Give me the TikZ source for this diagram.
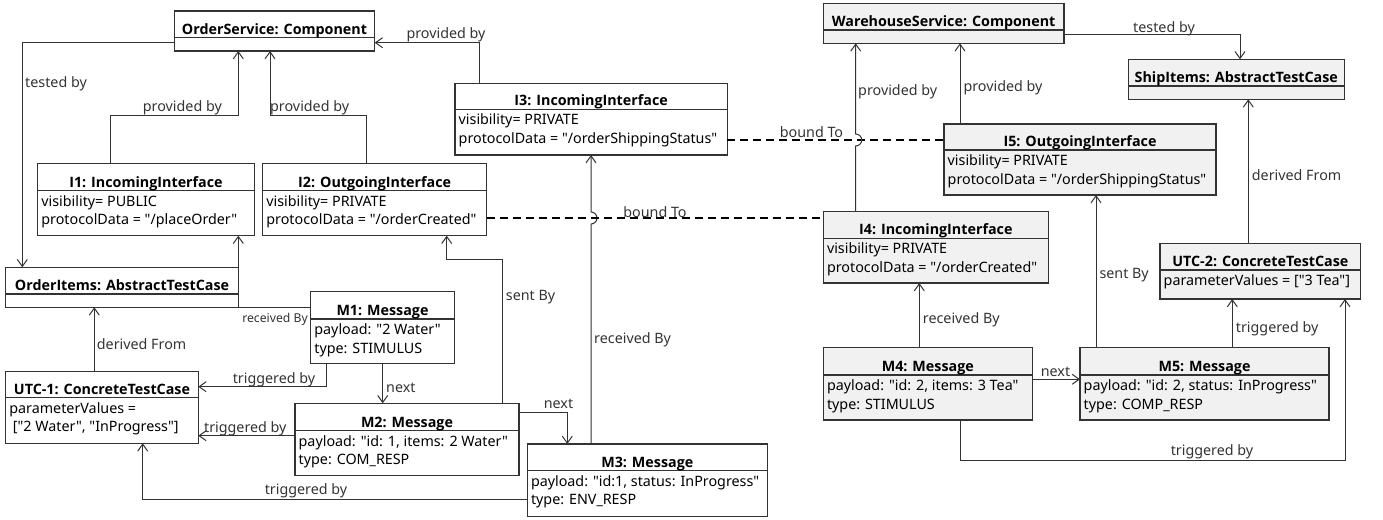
\documentclass[tikz,border=0pt]{standalone}
\usepackage{fontspec}
\setmainfont{Noto Sans}[Ligatures=TeXOff]
\newfontfamily\tfont{Open Sans}[Ligatures=TeXOff]
\usetikzlibrary{arrows.meta}
\definecolor{lc}{HTML}{333333}
\definecolor{gfill}{HTML}{F1F1F1}
\tikzset{
 objbox/.style={draw=lc, line width=1.2pt, inner sep=0pt, outer sep=0pt},
 ttl/.style={font=\fontsize{14.3}{17}\selectfont\tfont\bfseries, inner sep=0pt, anchor=base},
 attr/.style={font=\fontsize{14.3}{17}\selectfont, inner sep=0pt, anchor=base west},
 conn/.style={draw=lc, line width=1pt, -{Straight Barb[length=7pt,width=10pt]}},
 bound/.style={draw=black, line width=2pt, dash pattern=on 8pt off 5pt},
 lbl/.style={font=\fontsize{14.3}{17}\selectfont, inner sep=0pt, text=lc},
 slbl/.style={font=\fontsize{12.2}{14}\selectfont, inner sep=0pt, text=lc},
}
\newcommand{\umlobj}[9]{%
 \node[objbox, fill=#7, minimum width={#4pt-#2pt}, minimum height={#5pt-#3pt}] (#1) at ({(#2+#4)/2},{(#3+#5)/2}) {};
 \draw[draw=lc, line width=1.2pt] (#2,#6) -- (#4,#6);
 \node[ttl] (#1-t) at ({(#2+#4)/2},{#6-3.5}) {#8};
 \if\relax\detokenize{#9}\relax\else
 \foreach \ln [count=\i] in {#9} {\node[attr] (#1-a\i) at ({#2+3.5},{#6+15.5+18.5*(\i-1)}) {\ln};}
 \fi
}
\begin{document}
\begin{tikzpicture}[x=1pt,y=-1pt]
\useasboundingbox (0,0) rectangle (1383,519);
\umlobj{OS}{174.3}{11}{374.7}{51}{37.7}{white}{OrderService: Component}{}
\umlobj{I1}{37.7}{163.3}{254.3}{235.7}{190.7}{white}{I1: IncomingInterface}{{visibility= PUBLIC},{protocolData = "/placeOrder"}}
\umlobj{I2}{262.7}{163.3}{486.7}{235.7}{190.7}{white}{I2: OutgoingInterface}{{visibility= PRIVATE},{protocolData = "/orderCreated"}}
\umlobj{I3}{455}{83.3}{727.3}{155}{109.3}{white}{I3: IncomingInterface}{{visibility= PRIVATE},{protocolData = "/orderShippingStatus"}}
\umlobj{OI}{5.7}{267.3}{238.3}{307.3}{294}{white}{OrderItems: AbstractTestCase}{}
\umlobj{U1}{5.7}{371.7}{198.3}{443.3}{397.7}{white}{UTC-1: ConcreteTestCase}{{parameterValues =},{\hspace{3.5pt}["2 Water", "InProgress"]}}
\umlobj{M1}{310.7}{291.7}{454.3}{363.3}{319}{white}{M1: Message}{{payload: "2 Water"},{type: STIMULUS}}
\umlobj{M2}{295}{403.3}{519}{475.7}{430.7}{white}{M2: Message}{{payload: "id: 1, items: 2 Water"},{type: COM\_RESP}}
\umlobj{M3}{527.3}{444}{767.3}{516.7}{470.7}{white}{M3: Message}{{payload: "id:1, status: InProgress"},{type: ENV\_RESP}}
\umlobj{WS}{823.3}{3.3}{1064}{43.3}{30}{gfill}{WarehouseService: Component}{}
\umlobj{SI}{1128.3}{59.3}{1344.3}{99.3}{86}{gfill}{ShipItems: AbstractTestCase}{}
\umlobj{I5}{944}{124}{1216}{195}{150}{gfill}{I5: OutgoingInterface}{{visibility= PRIVATE},{protocolData = "/orderShippingStatus"}}
\umlobj{I4}{823.3}{211.7}{1048.3}{283}{238.3}{gfill}{I4: IncomingInterface}{{visibility= PRIVATE},{protocolData = "/orderCreated"}}
\umlobj{U2}{1160}{243.3}{1360.7}{299}{270}{gfill}{UTC-2: ConcreteTestCase}{{parameterValues = ["3 Tea"]}}
\umlobj{M4}{823.3}{347.7}{1032.3}{420}{375}{gfill}{M4: Message}{{payload: "id: 2, items: 3 Tea"},{type: STIMULUS}}
\umlobj{M5}{1080}{347.7}{1329}{420}{375}{gfill}{M5: Message}{{payload: "id: 2, status: InProgress"},{type: COMP\_RESP}}
% connectors
\draw[conn] (OS.west |- 0,42.7) -| (OI.north -| 22.3,0);
\draw[conn] (I1.north -| 110,0) |- (238.3,115) -- (OS.south -| 238.3,0);
\draw[conn] (I2.north -| 366.7,0) |- (270,115) -- (OS.south -| 270,0);
\draw[conn] (I3.north -| 479,0) |- (OS.east |- 0,42.7);
\draw[conn] (M1.west |- 0,307.3) -| (I1.south -| 238.3,0);
\draw[conn] (U1.north -| 94.3,0) -- (OI.south -| 94.3,0);
\draw[conn] (M1.south -| 326.7,0) |- (U1.east |- 0,386.7);
\draw[conn] (M1.south -| 382.7,0) -- (M2.north -| 382.7,0);
\draw[conn] (M2.west |- 0,435.7) -- (U1.east |- 0,435.7);
\draw[conn] (M3.west |- 0,499.3) -| (U1.south -| 142.7,0);
\draw[conn] (M2.north -| 502.3,0) |- (446.7,259.3) -- (I2.south -| 446.7,0);
\draw[conn] (M2.east |- 0,412.3) -| (M3.north -| 567.3,0);
\draw[conn] (M3.north -| 591,0) -- (591,224) arc[start angle=-90,end angle=90,radius=6pt] -- (I3.south -| 591,0);
\draw[bound] (I2.east |- 0,218) -- (I4.west |- 0,218);
\draw[bound] (I3.east |- 0,140) -- (I5.west |- 0,140);
\draw[conn] (I4.north -| 855.7,0) -- (855.7,146) arc[start angle=-90,end angle=90,radius=6pt] -- (WS.south -| 855.7,0);
\draw[conn] (I5.north -| 960,0) -- (WS.south -| 960,0);
\draw[conn] (WS.east |- 0,35) -| (SI.north -| 1240,0);
\draw[conn] (U2.north -| 1248.3,0) -- (SI.south -| 1248.3,0);
\draw[conn] (M4.north -| 919.3,0) -- (I4.south -| 919.3,0);
\draw[conn] (M4.east |- 0,379.3) -- (M5.west |- 0,379.3);
\draw[conn] (M5.north -| 1096,0) -- (I5.south -| 1096,0);
\draw[conn] (M5.north -| 1232.3,0) -- (U2.south -| 1232.3,0);
\draw[conn] (M4.south -| 960,0) |- (1345,460) -- (U2.south -| 1345,0);
% labels
\node[lbl, anchor=west] (l1) at (25,83.5) {tested by};
\node[lbl, anchor=east] (l2) at (222,108) {provided by};
\node[lbl, anchor=west] (l3) at (270,108) {provided by};
\node[lbl] (l4) at (446,35) {provided by};
\node[slbl] (l5) at (275,319) {received By};
\node[lbl, anchor=west] (l6) at (96.7,344.3) {derived From};
\node[lbl] (l7) at (274,380) {triggered by};
\node[lbl, anchor=west] (l8) at (386,387.7) {next};
\node[lbl] (l9) at (245.3,428.3) {triggered by};
\node[lbl] (l10) at (306,490.7) {triggered by};
\node[lbl, anchor=west] (l11) at (505.7,296.7) {sent By};
\node[lbl] (l12) at (558.5,404) {next};
\node[lbl, anchor=west] (l13) at (594,340) {received By};
\node[lbl] (l14) at (655,211.7) {bound To};
\node[lbl] (l15) at (811.5,131.7) {bound To};
\node[lbl, anchor=west] (l16) at (858,91.7) {provided by};
\node[lbl, anchor=west] (l17) at (963.3,87.7) {provided by};
\node[lbl] (l18) at (1164,28.3) {tested by};
\node[lbl, anchor=west] (l19) at (1251.7,175) {derived From};
\node[lbl, anchor=west] (l20) at (922.7,320) {received By};
\node[lbl] (l21) at (1055.5,372.3) {next};
\node[lbl, anchor=west] (l22) at (1099.3,275) {sent By};
\node[lbl, anchor=west] (l23) at (1235.7,328.3) {triggered by};
\node[lbl] (l24) at (1212,451.7) {triggered by};
\end{tikzpicture}
\end{document}
